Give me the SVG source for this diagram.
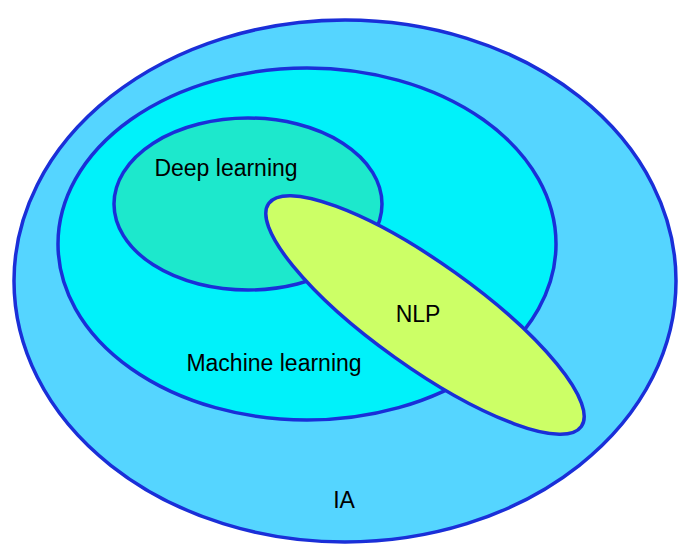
<svg xmlns="http://www.w3.org/2000/svg" width="689" height="558" viewBox="0 0 689 558">
<style>
.e{stroke:#1a2fd8;stroke-width:3.5}
text{font-family:"Liberation Sans",Arial,sans-serif;font-size:23px;fill:#000;text-anchor:middle;dominant-baseline:central}
</style>
<rect width="689" height="558" fill="#fff"/>
<g id="ia"><ellipse class="e" cx="345" cy="281" rx="331" ry="261" fill="#55d5ff"/><text x="344" y="500">IA</text></g>
<g id="ml"><ellipse class="e" cx="307" cy="244" rx="249" ry="176" fill="#00f2fa"/><text x="274" y="363">Machine learning</text></g>
<g id="dl"><ellipse class="e" cx="248" cy="204" rx="134" ry="86" fill="#1de8cc"/><text x="226" y="168">Deep learning</text></g>
<g id="nlp"><ellipse class="e" cx="425" cy="315" rx="192" ry="52" transform="rotate(35.5 425 315)" fill="#ccff66"/><text x="418" y="314">NLP</text></g>
<g id="connectors"/>
</svg>
